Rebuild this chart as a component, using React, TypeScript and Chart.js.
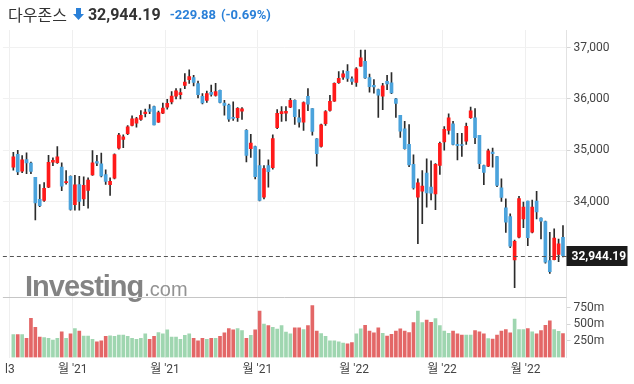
import { useEffect, useRef } from "react";
import { Chart, registerables } from "chart.js";

Chart.register(...registerables);

// Daily candles, 2021-09-13 .. 2022-03-11 (index = trading day)
const OPEN = [
  34670, 34917, 34590, 34815, 34750, 34470, 34040, 34020, 34280, 34765, 34755, 34670, 34365, 34490,
  33940, 34330, 34050, 34215, 34520, 34780, 34735, 34526, 34330, 34455, 35040, 35210, 35320, 35480,
  35527, 35600, 35710, 35800, 35850, 35546, 35720, 35840, 35940, 36054, 36080, 36262, 36375, 36412,
  36295, 36048, 35970, 36125, 36067, 36165, 35917, 35880, 35630, 35632, 35761, 35385, 35027, 35070,
  34700, 34085, 34700, 34657, 35437, 35710, 35720, 35840, 35970, 35632, 35546, 36048, 35808, 35222,
  35073, 35515, 35775, 35956, 36314, 36424, 36535, 36392, 36321, 36638, 36730, 36412, 36262, 36180,
  36054, 36340, 36314, 36000, 35677, 35418, 35112, 34722, 34084, 34201, 34552, 34279, 34150, 34702,
  35160, 35385, 35515, 35112, 35110, 35176, 35632, 35632, 35287, 34702, 34688, 34961, 34877, 34267,
  33877, 33708, 32863, 33304, 33663, 34006, 33402, 34006, 33675, 33610, 32850, 32869, 32967, 33304,
];
const HIGH = [
  34960, 34995, 34895, 34950, 34770, 34470, 34330, 34370, 34900, 34850, 35070, 34755, 34600, 34500,
  34510, 34490, 34480, 34460, 34990, 34900, 34942, 34618, 34460, 34930, 35330, 35300, 35480, 35670,
  35640, 35770, 35800, 35890, 35860, 35760, 35915, 35990, 36140, 36200, 36200, 36490, 36565, 36460,
  36345, 36100, 36150, 36270, 36300, 36170, 35970, 35900, 35940, 35830, 35830, 35400, 35310, 35080,
  35010, 34700, 34810, 35300, 35790, 35850, 35850, 36010, 35980, 35790, 35940, 36200, 35810, 35225,
  35510, 35770, 36070, 36310, 36530, 36550, 36665, 36430, 36610, 36950, 36950, 36480, 36373, 36190,
  36300, 36460, 36510, 36010, 35680, 35560, 35500, 34910, 34440, 34600, 34830, 34790, 34740, 35160,
  35460, 35710, 35560, 35330, 35330, 35530, 35840, 35810, 35290, 34710, 35020, 35040, 34880, 34440,
  34050, 33760, 33250, 34100, 33990, 34010, 34030, 34200, 33680, 33620, 33400, 33470, 33270, 33530,
];
const LOW = [
  34610, 34521, 34560, 34540, 34540, 33640, 33900, 34000, 34270, 34700, 34740, 34210, 34340, 33830,
  33830, 33830, 33920, 33870, 34510, 34700, 34480, 34331, 34120, 34440, 35020, 35050, 35300, 35470,
  35450, 35580, 35650, 35710, 35490, 35540, 35710, 35800, 35900, 36000, 36000, 36200, 36300, 36250,
  36020, 35900, 35930, 36050, 36050, 35920, 35680, 35560, 35580, 35560, 35600, 34770, 34860, 34440,
  34010, 34050, 34280, 34630, 35420, 35560, 35570, 35830, 35500, 35450, 35385, 35770, 35290, 34690,
  35060, 35480, 35760, 35950, 36300, 36380, 36340, 36280, 36240, 36630, 36400, 36130, 36112, 35640,
  35790, 36180, 36100, 35640, 35250, 35020, 34680, 34240, 33180, 33570, 33890, 34030, 33840, 34530,
  35000, 35310, 35100, 34810, 34880, 35110, 35620, 35125, 34640, 34330, 34680, 34670, 34290, 34000,
  33400, 33100, 32320, 33290, 33490, 33140, 33390, 33660, 33270, 32800, 32600, 32860, 32830, 32920,
];
const CLOSE = [
  34870, 34578, 34814, 34751, 34585, 33970, 33920, 34258, 34765, 34800, 34870, 34300, 34390, 33845,
  34325, 34003, 34315, 34417, 34755, 34746, 34500, 34390, 34395, 34913, 35295, 35259, 35457, 35609,
  35613, 35677, 35741, 35757, 35491, 35730, 35820, 35914, 36053, 36158, 36124, 36328, 36432, 36320,
  36080, 35921, 36100, 36087, 36142, 35931, 35871, 35602, 35619, 35814, 35804, 34899, 35136, 34484,
  34022, 34640, 34580, 35227, 35719, 35754, 35755, 35971, 35651, 35544, 35927, 35897, 35365, 34932,
  35493, 35754, 35951, 36302, 36398, 36489, 36398, 36338, 36585, 36800, 36407, 36236, 36232, 36069,
  36252, 36290, 36114, 35912, 35368, 35029, 34715, 34265, 34364, 34298, 34168, 34161, 34725, 35132,
  35405, 35629, 35111, 35090, 35091, 35463, 35768, 35242, 34738, 34566, 34989, 34934, 34312, 34080,
  33597, 33132, 33224, 34059, 33893, 33295, 33891, 33795, 33615, 32817, 32633, 33286, 33174, 32944.19,
];
// volume, millions of shares
const VOLUME = [
  346, 346, 346, 291, 593, 456, 308, 302, 291, 264, 291, 390, 291, 357, 440, 401, 324, 324, 275, 236,
  253, 319, 330, 319, 341, 341, 319, 291, 275, 291, 357, 275, 319, 379, 357, 418, 308, 308, 275, 335,
  357, 291, 253, 291, 275, 291, 291, 319, 374, 440, 418, 440, 407, 291, 335, 418, 703, 506, 484, 456,
  429, 484, 385, 357, 451, 451, 423, 484, 786, 401, 363, 319, 253, 253, 236, 220, 209, 225, 357, 434,
  489, 401, 374, 451, 368, 324, 352, 401, 434, 401, 379, 528, 703, 528, 566, 533, 588, 484, 401, 368,
  401, 357, 341, 341, 341, 407, 390, 357, 286, 280, 341, 401, 423, 374, 582, 423, 423, 440, 390, 357,
  407, 489, 555, 423, 396, 363,
];

const X_TICK_POS = [-0.8, 13.5, 34.5, 55.5, 77.5, 97.5, 116.5];
const X_TICK_LABELS = ["l3", "월 '21", "월 '21", "월 '21", "월 '22", "월 '22", "월 '22"];
const PRICE_TICKS = [37000, 36000, 35000, 34000];
const VOLUME_TICKS = [750, 500, 250];
const INDEX_NAME = "다우존스";
const CHANGE = -229.88;
const CHANGE_PCT = -0.69;

// layout constants
const PMAX = 37341;
const PMIN = 30961;
const VMAX = 4962;
const VOL_PANE_TOP = 915;

const UP = "#ff1a1a";
const DOWN = "#4ba3dc";
const VOL_UP = "#9fd6b0";
const VOL_DOWN = "#e36767";

const volToPrice = (v: number) => PMIN + (v / VMAX) * (PMAX - PMIN);
const fmt = (n: number, d = 0) =>
  n.toLocaleString("en-US", { minimumFractionDigits: d, maximumFractionDigits: d });

export default function App() {
  const ref = useRef<HTMLCanvasElement | null>(null);

  useEffect(() => {
    if (!ref.current) return;
    const idx = CLOSE.map((_, i) => i);
    const up = idx.map((i) => CLOSE[i] >= OPEN[i]);
    const last = CLOSE[CLOSE.length - 1];

    const decor = {
      id: "decor",
      beforeDatasetsDraw(chart: any) {
        const { ctx, chartArea, scales } = chart;
        ctx.save();
        // watermark
        ctx.fillStyle = "rgba(118,118,118,0.9)";
        ctx.textBaseline = "alphabetic";
        ctx.font = 'bold 29px "Liberation Sans"';
        (ctx as any).letterSpacing = "-1px";
        ctx.fillText("Investing", 25, 296);
        const w = ctx.measureText("Investing").width;
        (ctx as any).letterSpacing = "0px";
        ctx.font = '20px "Liberation Sans"';
        ctx.fillStyle = "rgba(135,135,135,0.9)";
        ctx.fillText(".com", 26 + w, 296);
        // pane separator
        const ys = Math.round(scales.y2.getPixelForValue(VOL_PANE_TOP)) + 0.5;
        ctx.strokeStyle = "#c6c6c6";
        ctx.lineWidth = 1;
        ctx.beginPath();
        ctx.moveTo(chartArea.left, ys);
        ctx.lineTo(chartArea.right, ys);
        ctx.stroke();
        ctx.restore();
      },
      afterDatasetsDraw(chart: any) {
        const { ctx, chartArea, scales } = chart;
        const y = Math.round(scales.y.getPixelForValue(last)) + 0.5;
        ctx.save();
        ctx.strokeStyle = "#555";
        ctx.lineWidth = 1;
        ctx.setLineDash([4, 3]);
        ctx.beginPath();
        ctx.moveTo(chartArea.left, y);
        ctx.lineTo(chartArea.right, y);
        ctx.stroke();
        ctx.setLineDash([]);
        ctx.fillStyle = "#1b1b1b";
        ctx.fillRect(chartArea.right, y - 10.5, 61, 20);
        ctx.fillStyle = "#fff";
        ctx.font = "bold 12px Roboto";
        ctx.textBaseline = "middle";
        ctx.fillText(fmt(last, 2), chartArea.right + 5, y);
        ctx.restore();
      },
    };

    const chart = new Chart(ref.current, {
      type: "bar",
      data: {
        datasets: [
          {
            data: idx.map((i) => ({ x: i, y: [OPEN[i], CLOSE[i]] })) as any,
            backgroundColor: idx.map((i) => (up[i] ? UP : DOWN)),
            barThickness: 3,
            minBarLength: 1,
            grouped: false,
            order: 0,
            yAxisID: "y",
          },
          {
            data: idx.map((i) => ({ x: i, y: [LOW[i], HIGH[i]] })) as any,
            backgroundColor: "#2b2b2b",
            barThickness: 1,
            grouped: false,
            order: 1,
            yAxisID: "y",
          },
          {
            data: idx.map((i) => ({ x: i, y: VOLUME[i] })) as any,
            backgroundColor: idx.map((i) => (up[i] ? VOL_UP : VOL_DOWN)),
            barThickness: 3,
            grouped: false,
            order: 2,
            yAxisID: "y2",
          },
        ],
      },
      options: {
        responsive: false,
        animation: false,
        layout: { padding: { top: 30, left: 0, right: 0, bottom: 0 } },
        plugins: { legend: { display: false }, tooltip: { enabled: false } },
        scales: {
          x: {
            type: "linear",
            min: -2.38,
            max: 125.8,
            offset: false,
            afterBuildTicks: (s: any) => {
              s.ticks = X_TICK_POS.map((v) => ({ value: v }));
            },
            afterFit: (s: any) => {
              s.height = 26.5;
            },
            ticks: {
              autoSkip: false,
              maxRotation: 0,
              padding: 5,
              color: "#444",
              font: { family: 'Roboto, "Noto Sans CJK KR"', size: 12 },
              callback: (v: any) => {
                const k = X_TICK_POS.indexOf(Number(v));
                return k >= 0 ? X_TICK_LABELS[k] : "";
              },
            },
            grid: { color: "#efefef", drawTicks: false, offset: false },
            border: { display: false },
          },
          y: {
            type: "linear",
            position: "right",
            min: PMIN,
            max: PMAX,
            afterBuildTicks: (s: any) => {
              s.ticks = [...PRICE_TICKS, ...VOLUME_TICKS.map(volToPrice)].map((v) => ({ value: v }));
            },
            afterFit: (s: any) => {
              s.width = 67.5;
            },
            ticks: {
              padding: 3,
              color: "#444",
              font: { family: "Roboto", size: 12 },
              callback: (v: any, i: number) =>
                i < PRICE_TICKS.length ? fmt(Number(v)) : `${VOLUME_TICKS[i - PRICE_TICKS.length]}m`,
            },
            grid: {
              color: (c: any) =>
                c.tick && PRICE_TICKS.includes(c.tick.value) ? "#f1f1f1" : "rgba(0,0,0,0)",
              tickColor: "#d6d6d6",
              tickLength: 4,
            },
            border: { display: true, color: "#e2e2e2" },
          },
          y2: {
            type: "linear",
            display: false,
            min: 0,
            max: VMAX,
            grid: { display: false },
            border: { display: false },
          },
        },
      },
      plugins: [decor],
    } as any);
    return () => chart.destroy();
  }, []);

  const last = CLOSE[CLOSE.length - 1];
  const blue = "#2a80d8";
  return (
    <div style={{ position: "absolute", left: 0, top: 0, width: 634, height: 384, background: "#fff" }}>
      <canvas ref={ref} width={634} height={384} style={{ display: "block" }} />
      <div
        style={{
          position: "absolute",
          left: 8,
          top: 4,
          height: 20,
          display: "flex",
          alignItems: "center",
          whiteSpace: "nowrap",
          color: "#333",
          fontFamily: 'Roboto, "Noto Sans CJK KR"',
        }}
      >
        <span style={{ fontSize: 16, fontFamily: '"Noto Sans CJK KR"' }}>{INDEX_NAME}</span>
        <svg width="11" height="12" viewBox="0 0 11 12" style={{ marginLeft: 6, marginRight: 4 }}>
          <polygon points="3,0 8,0 8,6 11,6 5.5,12 0,6 3,6" fill={blue} />
        </svg>
        <span style={{ fontSize: 16, fontWeight: 700 }}>{fmt(last, 2)}</span>
        <span style={{ fontSize: 13, fontWeight: 700, color: blue, marginLeft: 9 }}>{fmt(CHANGE, 2)}</span>
        <span style={{ fontSize: 13, fontWeight: 700, color: blue, marginLeft: 5 }}>
          ({fmt(CHANGE_PCT, 2)}%)
        </span>
      </div>
    </div>
  );
}
